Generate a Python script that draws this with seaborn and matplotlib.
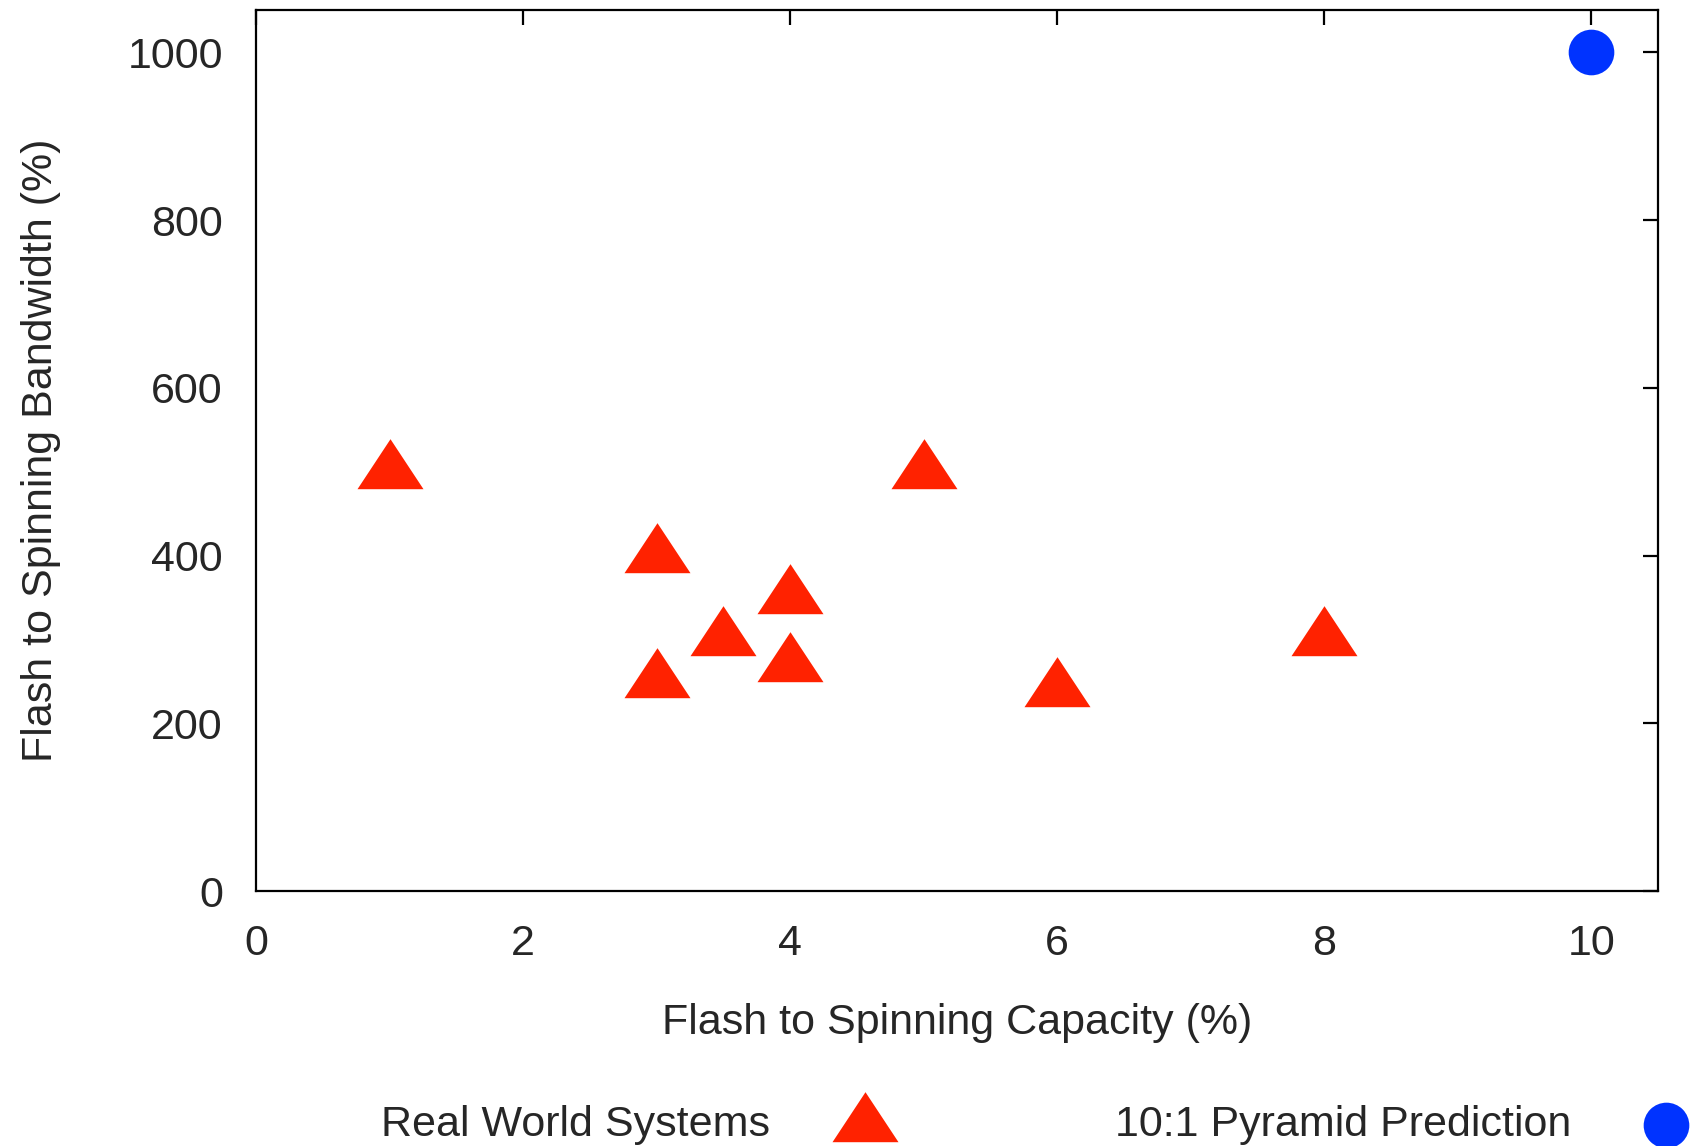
import numpy as np
import pandas as pd
import matplotlib
matplotlib.use("Agg")
import matplotlib.pyplot as plt
import seaborn as sns

# data
real_capacity = [1, 3, 3, 3.5, 4, 4, 5, 6, 8]
real_bandwidth = [500, 400, 250, 300, 350, 270, 500, 240, 300]
pred_capacity = [10]
pred_bandwidth = [1000]

x_ticks = [0, 2, 4, 6, 8, 10]
y_ticks = [0, 200, 400, 600, 800, 1000]

real = pd.DataFrame({"cap": real_capacity, "bw": real_bandwidth})
pred = pd.DataFrame({"cap": pred_capacity, "bw": pred_bandwidth})

sns.set_style("white")
plt.rcParams["font.family"] = ["Liberation Sans", "DejaVu Sans"]
plt.rcParams["font.size"] = 31

# gnuplot style triangle, centred on its centroid
tri = [(0, 33.3), (-33, -16.7), (33, -16.7), (0, 33.3)]

fig = plt.figure(figsize=(16.97, 11.46), dpi=100)
ax = fig.add_axes([0.151, 0.2225, 0.826, 0.7685])

sns.scatterplot(data=real, x="cap", y="bw", marker=tri, s=2300, color="#ff2200",
                linewidth=0, ax=ax, label="Real World Systems")
sns.scatterplot(data=pred, x="cap", y="bw", marker="o", s=1080, color="#0033ff",
                linewidth=0, ax=ax, label="10:1 Pyramid Prediction")

ax.set_xlim(0, 10.5)
ax.set_ylim(0, 1050)
ax.set_xticks(x_ticks)
ax.set_yticks(y_ticks)
ax.set_xlabel("Flash to Spinning Capacity (%)", labelpad=28)
ax.set_ylabel("Flash to Spinning Bandwidth (%)", labelpad=48)

for sp in ax.spines.values():
    sp.set_visible(True)
    sp.set_color("black")
    sp.set_linewidth(1.6)
ax.tick_params(direction="in", length=11, width=1.6, color="black",
               top=True, right=True, labelsize=31)
ax.tick_params(axis="x", pad=24)
ax.tick_params(axis="y", pad=24)

handles, labels = ax.get_legend_handles_labels()
ax.get_legend().remove()
fig.legend(handles, labels, loc="center left", bbox_to_anchor=(0.212, 0.018),
           ncol=2, markerfirst=False, frameon=False, borderpad=0,
           handlelength=2.0, handletextpad=1.2, columnspacing=4.8, fontsize=31)

fig.savefig("out.png", dpi=100)
